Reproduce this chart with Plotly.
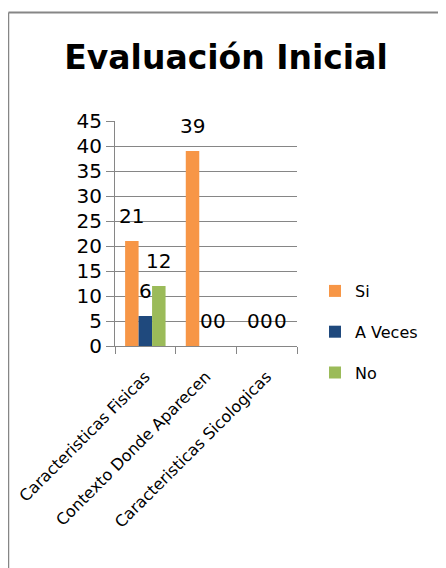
import plotly.graph_objects as go

categories = ["Caracteristicas Fisicas", "Contexto Donde Aparecen", "Caracteristicas Sicologicas"]
series_names = ["Si", "A Veces", "No"]
si_values = [21, 39, 0]
aveces_values = [6, 0, 0]
no_values = [12, 0, 0]
y_ticks = [0, 5, 10, 15, 20, 25, 30, 35, 40, 45]

colors = ["#F79646", "#1F497D", "#9BBB59"]
FONT = "'DejaVu Sans', sans-serif"

# page has an 8px body margin; figure coordinates = page coordinates - 8
OFF = 8
W, H = 446 - OFF, 568 - OFF
ML, MT = 115 - OFF, 121 - OFF
MR = W - (297 - OFF)
MB = H - (346 - OFF)
BARGAP = 1.5 / 4.5
plot_w = W - ML - MR
plot_h = H - MT - MB

fig = go.Figure()
all_vals = [si_values, aveces_values, no_values]
for i, (name, vals) in enumerate(zip(series_names, all_vals)):
    fig.add_trace(go.Bar(
        x=categories, y=vals, name=name, marker_color=colors[i],
        marker_line_width=0, legendgroup=name,
    ))

# data labels placed above bar tops (offsets computed from the bar layout)
cat_w = plot_w / len(categories)
bar_w = cat_w * (1 - BARGAP) / len(series_names)
for i, vals in enumerate(all_vals):
    xs = (i - (len(series_names) - 1) / 2) * bar_w
    for c, v in zip(categories, vals):
        fig.add_annotation(x=c, y=v, xref="x", yref="y", text=str(v),
                           showarrow=False, xshift=xs, yshift=25,
                           font=dict(family=FONT, size=20, color="#000000"))

legend_text_x = 355 - OFF
fig.update_layout(
    width=W, height=H,
    margin=dict(l=ML, r=MR, t=MT, b=MB, autoexpand=False),
    paper_bgcolor="white", plot_bgcolor="white",
    barmode="group", bargap=BARGAP, bargroupgap=0,
    title=dict(text="<b>Evaluación Inicial</b>", x=(226 - OFF) / W, xref="container",
               xanchor="center", y=1 - (57 - OFF) / H, yanchor="middle",
               font=dict(family=FONT, size=33, color="#000000")),
    font=dict(family=FONT, color="#000000"),
    legend=dict(x=(legend_text_x - 40 - ML) / plot_w, xanchor="left",
                y=(H - MB - (332 - OFF)) / plot_h, yanchor="middle",
                font=dict(family=FONT, size=16, color="#000000"),
                tracegroupgap=17, itemwidth=30, bgcolor="rgba(0,0,0,0)"),
    showlegend=True,
)
fig.update_yaxes(range=[0, 45], tickvals=y_ticks, showgrid=True, gridcolor="#868686",
                 gridwidth=1, showline=True, linecolor="#868686", linewidth=1,
                 ticks="outside", ticklen=8, tickcolor="#868686",
                 tickfont=dict(family=FONT, size=20, color="#000000"), zeroline=False)
fig.update_xaxes(showline=True, linecolor="#868686", linewidth=1, ticks="outside",
                 tickson="boundaries", ticklen=7, tickcolor="#868686", tickangle=-45,
                 ticklabelstandoff=14,
                 tickfont=dict(family=FONT, size=16, color="#000000"), mirror=False)

# chart border (top and left edges visible)
top_y = (H - MB - (12.5 - OFF)) / plot_h
left_x = (0.5 - ML) / plot_w
fig.add_shape(type="line", xref="paper", yref="paper",
              x0=left_x, x1=(W - ML) / plot_w, y0=top_y, y1=top_y,
              line=dict(color="#868686", width=2))
fig.add_shape(type="line", xref="paper", yref="paper",
              x0=left_x, x1=left_x, y0=top_y, y1=(H - MB - H) / plot_h,
              line=dict(color="#868686", width=1.5))

fig.write_html("out.html")
